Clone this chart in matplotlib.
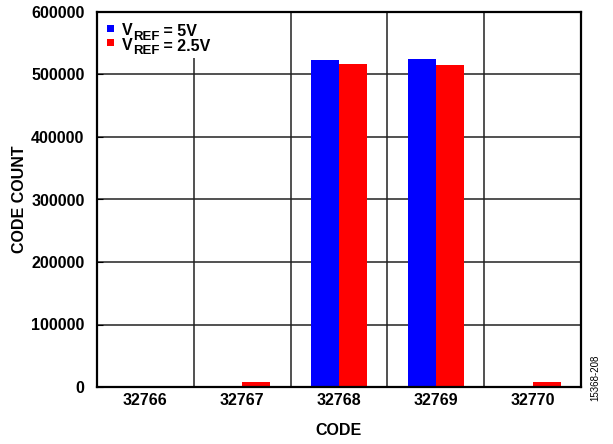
import numpy as np
import matplotlib
matplotlib.use("Agg")
import matplotlib.pyplot as plt
from matplotlib.patches import Rectangle

plt.rcParams['font.family'] = ['Liberation Sans', 'DejaVu Sans']
plt.rcParams['font.weight'] = 'bold'

# data
codes = ["32766", "32767", "32768", "32769", "32770"]
count_5v = [0, 0, 523000, 524500, 0]
count_2v5 = [0, 8000, 516500, 515500, 8000]
y_ticks = [0, 100000, 200000, 300000, 400000, 500000, 600000]
series_names = [("V", "REF", " = 5V"), ("V", "REF", " = 2.5V")]
series_colors = ['#0000ff', '#ff0000']

W, H = 613, 444
fig = plt.figure(figsize=(W / 100, H / 100), dpi=100)
ax = fig.add_axes([97 / W, 1 - 387 / H, (581 - 97) / W, (387 - 12) / H])

x = np.arange(len(codes))
w = 0.29
ax.bar(x - w / 2, count_5v, w, color=series_colors[0], zorder=3)
ax.bar(x + w / 2, count_2v5, w, color=series_colors[1], zorder=3)

ax.set_xlim(-0.5, len(codes) - 0.5)
ax.set_ylim(0, 600000)
ax.set_yticks(y_ticks)
ax.set_yticklabels([str(v) for v in y_ticks], fontsize=11.5, fontweight='bold')
ax.set_xticks(x)
ax.set_xticklabels(codes, fontsize=11.5, fontweight='bold')
ax.tick_params(axis='x', length=0, pad=4)
ax.tick_params(axis='y', direction='in', length=4, pad=9)

# grid: horizontal at ticks, vertical between categories
for v in y_ticks[1:-1]:
    ax.axhline(v, color='#222222', lw=1.1, zorder=1)
for b in x[:-1] + 0.5:
    ax.axvline(b, color='#222222', lw=1.1, zorder=1)

for s in ax.spines.values():
    s.set_linewidth(1.6)
    s.set_color('black')
    s.set_zorder(6)

ax.set_xlabel("CODE", fontsize=11.5, fontweight='bold', labelpad=11)
ax.set_ylabel("CODE COUNT", fontsize=11.5, fontweight='bold', labelpad=3)

# legend drawn by hand (white box over the grid, big subscripts)
def px(xp, yp):
    return xp / W, 1 - yp / H

ax.add_patch(Rectangle(px(98, 58), 118 / W, 45 / H, transform=fig.transFigure,
                       facecolor='white', edgecolor='none', zorder=5))
for i, (name, sub, rest) in enumerate(series_names):
    yb = 33 + i * 14.5
    ax.add_patch(Rectangle(px(107, yb - 1), 7 / W, 7 / H, transform=fig.transFigure,
                           facecolor=series_colors[i], edgecolor='none', zorder=6))
    t1 = ax.text(*px(122, yb + 2), name, transform=fig.transFigure, fontsize=11.5,
                 fontweight='bold', va='baseline', zorder=7)
    t2 = ax.annotate(sub, xy=(1, 0), xycoords=t1, xytext=(0, -3.5),
                     textcoords='offset points', fontsize=9.5, fontweight='bold',
                     va='bottom', ha='left', zorder=7, annotation_clip=False)
    ax.annotate(rest, xy=(1, 0), xycoords=t2, xytext=(0, 2.5),
                textcoords='offset points', fontsize=11.5, fontweight='bold',
                va='bottom', ha='left', zorder=7, annotation_clip=False)

fig.text(595 / W, 1 - 378 / H, "15368-208", rotation=90, fontsize=7,
         fontweight='normal', ha='center', va='center')

fig.savefig("out.png", dpi=100)
